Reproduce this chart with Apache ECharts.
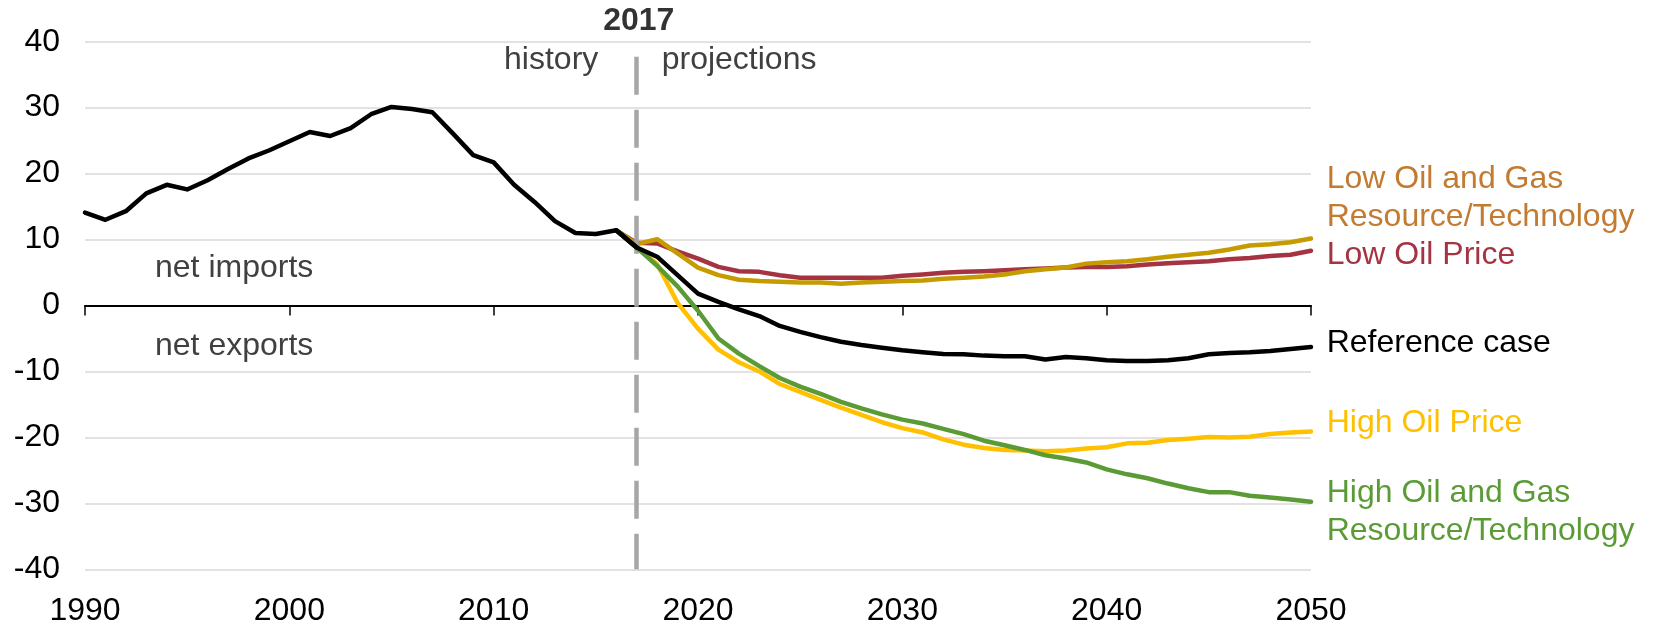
<!DOCTYPE html>
<html>
<head>
<meta charset="utf-8">
<script src="https://cdn.jsdelivr.net/npm/echarts@6/dist/echarts.min.js"></script>
<style>
  html, body { margin: 0; padding: 0; background: #fff; }
  #chart { width: 1656px; height: 623px; }
</style>
</head>
<body>
<div id="chart"></div>
<script>
// history 1990-2017 (shared by all cases)
const histYears = [1990, 1991, 1992, 1993, 1994, 1995, 1996, 1997, 1998, 1999,
  2000, 2001, 2002, 2003, 2004, 2005, 2006, 2007, 2008, 2009,
  2010, 2011, 2012, 2013, 2014, 2015, 2016, 2017]
const history = [14.1, 13.0, 14.3, 17.0, 18.3, 17.6, 19.0, 20.7, 22.3, 23.5,
  24.9, 26.3, 25.7, 26.9, 29.0, 30.1, 29.8, 29.3, 26.1, 22.8,
  21.7, 18.3, 15.7, 12.8, 11.0, 10.85, 11.4, 8.8]

// projections 2016-2050
const projYears = [2016, 2017, 2018, 2019, 2020, 2021, 2022, 2023, 2024, 2025,
  2026, 2027, 2028, 2029, 2030, 2031, 2032, 2033, 2034, 2035,
  2036, 2037, 2038, 2039, 2040, 2041, 2042, 2043, 2044, 2045,
  2046, 2047, 2048, 2049, 2050]
const lowPrice = [11.4, 9.5, 9.4, 8.2, 7.1, 5.85, 5.2, 5.1, 4.6, 4.2,
  4.2, 4.2, 4.2, 4.2, 4.5, 4.7, 4.95, 5.1, 5.2, 5.35,
  5.5, 5.6, 5.75, 5.85, 5.85, 5.95, 6.2, 6.4, 6.55, 6.7,
  7.0, 7.2, 7.5, 7.7, 8.3]
const lowResource = [11.4, 9.3, 10.05, 7.9, 5.75, 4.6, 3.9, 3.7, 3.6, 3.5,
  3.5, 3.3, 3.5, 3.6, 3.7, 3.8, 4.05, 4.2, 4.4, 4.7,
  5.2, 5.5, 5.75, 6.35, 6.55, 6.7, 7.0, 7.4, 7.7, 8.0,
  8.5, 9.1, 9.3, 9.6, 10.15]
const highPrice = [11.4, 8.8, 6.3, 0.4, -3.5, -6.7, -8.6, -10.0, -11.9, -13.1,
  -14.3, -15.5, -16.6, -17.7, -18.6, -19.25, -20.3, -21.1, -21.6, -21.9,
  -22.0, -22.1, -22.0, -21.7, -21.5, -20.9, -20.8, -20.4, -20.2, -19.95,
  -20.0, -19.9, -19.5, -19.25, -19.1]
const highResource = [11.4, 8.8, 6.0, 2.9, -0.8, -5.0, -7.3, -9.2, -11.0, -12.3,
  -13.4, -14.6, -15.6, -16.5, -17.3, -17.9, -18.7, -19.5, -20.5, -21.2,
  -21.9, -22.7, -23.2, -23.8, -24.85, -25.6, -26.2, -27.0, -27.7, -28.3,
  -28.3, -28.85, -29.1, -29.4, -29.75]
const reference = [11.4, 8.8, 7.4, 4.6, 1.8, 0.55, -0.6, -1.6, -3.1, -4.0,
  -4.8, -5.5, -6.0, -6.4, -6.8, -7.1, -7.35, -7.4, -7.6, -7.7,
  -7.7, -8.2, -7.8, -8.0, -8.3, -8.4, -8.4, -8.3, -8.0, -7.4,
  -7.2, -7.1, -6.9, -6.6, -6.3]

const yTicks = { min: -40, max: 40, step: 10 }
const xTicks = { min: 1990, max: 2050, step: 10 }
const splitYear = 2017
const splitTop = 37.7

const FONT = '"Liberation Sans", Arial, sans-serif'
const pairs = (xs, ys) => xs.map((x, i) => [x, ys[i]])

const chart = echarts.init(document.getElementById('chart'))

function line(name, years, values, color, z) {
  return {
    name, type: 'line', data: pairs(years, values), xAxisIndex: 0,
    showSymbol: false, z,
    lineStyle: { color, width: 4.5, cap: 'round', join: 'round' }
  }
}

function txt(text, x, y, fill, align, weight) {
  return {
    type: 'text', x, y, silent: true,
    style: {
      text, fill, font: (weight || 'normal') + ' 32px ' + FONT,
      textAlign: align, textVerticalAlign: 'middle',
      align, verticalAlign: 'middle'
    }
  }
}

const series = [
  line('Low Oil Price', projYears, lowPrice, '#a53342', 2),
  line('Low Oil and Gas Resource/Technology', projYears, lowResource, '#c59b00', 3),
  line('High Oil Price', projYears, highPrice, '#ffc000', 4),
  line('High Oil and Gas Resource/Technology', projYears, highResource, '#5b9b35', 5),
  line('Reference case', projYears, reference, '#000000', 6),
  line('history', histYears, history, '#000000', 7)
]
series[0].markLine = {
  silent: true, symbol: ['none', 'none'], label: { show: false },
  lineStyle: { color: '#a6a6a6', width: 4.5, type: [38, 15] },
  data: [[{ coord: [splitYear, splitTop] }, { coord: [splitYear, yTicks.min] }]]
}

chart.setOption({
  animation: false,
  backgroundColor: '#fff',
  textStyle: { fontFamily: FONT },
  grid: { left: 85, right: 345, top: 41.7, bottom: 53.7, outerBoundsMode: 'none' },
  xAxis: [
    {
      type: 'value', min: xTicks.min, max: xTicks.max, interval: xTicks.step,
      position: 'bottom',
      axisLine: { show: false, onZero: false },
      axisTick: { show: false },
      splitLine: { show: false },
      axisLabel: { color: '#000', fontSize: 32, margin: 26, fontFamily: FONT,
        formatter: v => String(v) }
    },
    {
      type: 'value', min: xTicks.min, max: xTicks.max, interval: xTicks.step,
      position: 'bottom',
      axisLine: { show: true, onZero: true, lineStyle: { color: '#000', width: 2 } },
      axisTick: { show: true, length: 10, lineStyle: { color: '#000', width: 1.5 } },
      splitLine: { show: false },
      axisLabel: { show: false }
    }
  ],
  yAxis: {
    type: 'value', min: yTicks.min, max: yTicks.max, interval: yTicks.step,
    axisLine: { show: false }, axisTick: { show: false },
    splitLine: { lineStyle: { color: '#d9d9d9', width: 1.5 } },
    axisLabel: { color: '#000', fontSize: 32, margin: 25, fontFamily: FONT }
  },
  series,
  graphic: [
    txt('2017', 638.8, 21, '#333333', 'center', 'bold'),
    txt('history', 598.3, 60, '#404040', 'right'),
    txt('projections', 661.7, 60, '#404040', 'left'),
    txt('net imports', 155, 268, '#404040', 'left'),
    txt('net exports', 155, 346.5, '#404040', 'left'),
    txt('Low Oil and Gas', 1326.7, 179, '#c27b30', 'left'),
    txt('Resource/Technology', 1326.7, 217.5, '#c27b30', 'left'),
    txt('Low Oil Price', 1326.7, 255.5, '#a53342', 'left'),
    txt('Reference case', 1326.7, 343.5, '#000000', 'left'),
    txt('High Oil Price', 1326.7, 423.5, '#ffc000', 'left'),
    txt('High Oil and Gas', 1326.7, 493.5, '#5b9b35', 'left'),
    txt('Resource/Technology', 1326.7, 531, '#5b9b35', 'left')
  ]
})
</script>
</body>
</html>
